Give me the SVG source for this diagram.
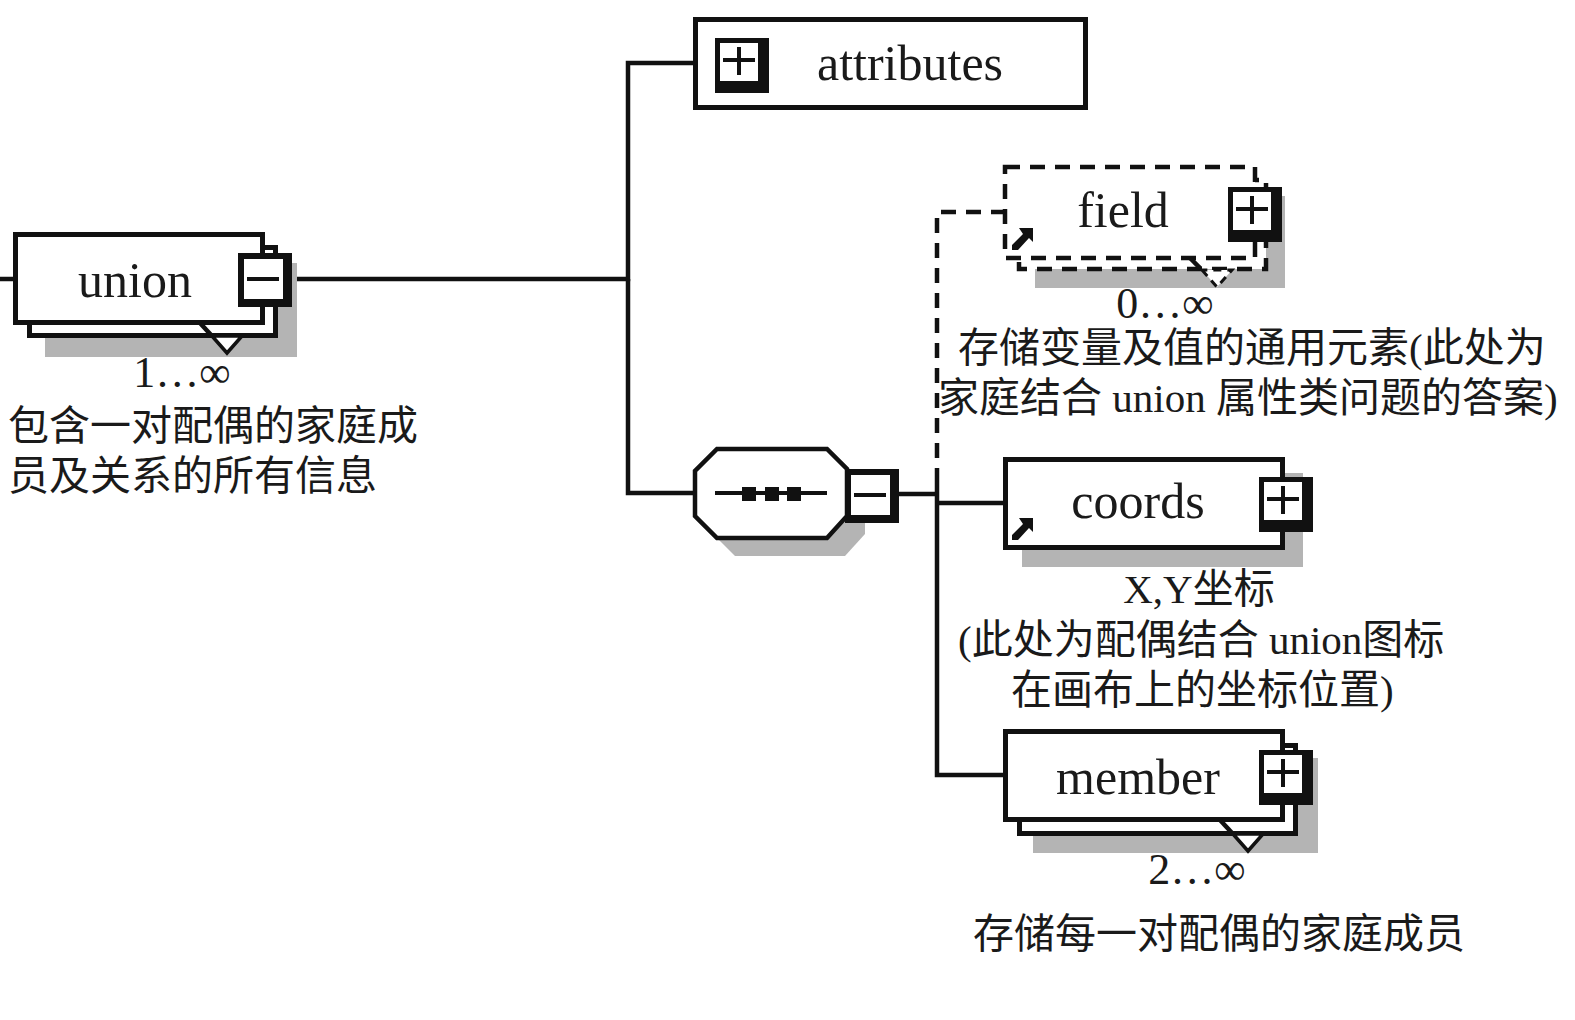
<svg xmlns="http://www.w3.org/2000/svg" width="1575" height="1020" viewBox="0 0 1575 1020">
<style>
.ln{fill:none;stroke:#111;stroke-width:4.5}
.dash{fill:none;stroke:#111;stroke-width:4.5;stroke-dasharray:15 10}
.box{fill:#fff;stroke:#111;stroke-width:5}
.dbox{fill:#fff;stroke:#111;stroke-width:4.5;stroke-dasharray:15 10}
.sh{fill:#b4b4b4}
.blk{fill:#111}
.wht{fill:#fff}
.nm{font-family:"Liberation Serif","Times New Roman",serif;font-size:50px;fill:#1a1a1a}
.mul{font-family:"Liberation Serif","Times New Roman",serif;font-size:44px;fill:#1a1a1a}
.tx{font-family:"Liberation Serif","Noto Sans CJK SC",serif;font-size:41px;fill:#1a1a1a}
</style>
<defs>
<g id="plus">
<rect x="0" y="0" width="54" height="55" class="blk"/>
<rect x="5" y="5" width="38" height="38" class="wht"/>
<path d="M8 22H40M24 9V37" stroke="#111" stroke-width="4" fill="none"/>
</g>
<g id="minus">
<rect x="0" y="0" width="54" height="54" class="blk"/>
<rect x="6" y="6" width="39" height="40" class="wht"/>
<path d="M9 26H41" stroke="#111" stroke-width="4" fill="none"/>
</g>
<polygon id="ref" points="7,0 21,0 21,14 17,10 6,22 0,22 0,17 11,6" class="blk"/>
</defs>

<g id="connectors">
<path class="ln" d="M0 279H15"/>
<path class="ln" d="M292 279H628V63H695"/>
<path class="ln" d="M628 279V493H695"/>
<path class="ln" d="M898 494H937"/>
<path class="ln" d="M937 483V775H1005"/>
<path class="ln" d="M937 503H1005"/>
<path class="dash" d="M937 483V212H1005"/>
</g>

<g id="node-union">
<rect x="45" y="263" width="252" height="94" class="sh"/>
<rect x="29.5" y="247.5" width="246" height="88" class="box"/>
<rect x="15.5" y="234.5" width="247" height="88" class="box"/>
<path d="M200 323L212 336" class="ln" stroke-width="3"/>
<polygon points="212,336 227,353 242,336" fill="#fff" stroke="#111" stroke-width="3.5"/>
<use href="#minus" x="238" y="253"/>
<text class="nm" x="135" y="297" text-anchor="middle">union</text>
<text class="mul" x="182" y="387" text-anchor="middle">1…∞</text>
<text class="tx" x="8" y="440">包含一对配偶的家庭成</text>
<text class="tx" x="8" y="490">员及关系的所有信息</text>
</g>

<g id="node-attributes">
<rect x="695.5" y="19.5" width="390" height="88" class="box"/>
<use href="#plus" x="715" y="38"/>
<text class="nm" x="910" y="80" text-anchor="middle">attributes</text>
</g>

<g id="node-sequence">
<polygon points="735,467 845,467 865,487 865,534 845,556 735,556 713,534 713,489" class="sh"/>
<polygon points="717,449 827,449 847,469 847,516 827,538 717,538 695,516 695,471" fill="#fff" stroke="#111" stroke-width="4.5"/>
<path d="M715 493H827" stroke="#111" stroke-width="4"/>
<rect x="742" y="487" width="14" height="14" class="blk"/>
<rect x="765" y="487" width="14" height="14" class="blk"/>
<rect x="787" y="487" width="14" height="14" class="blk"/>
<use href="#minus" x="845" y="469"/>
</g>

<g id="node-field">
<rect x="1035" y="196" width="250" height="92" class="sh"/>
<rect x="1019" y="180" width="247" height="89" class="dbox"/>
<rect x="1005" y="167" width="250" height="91" class="dbox"/>
<path d="M1190 258L1202 270" class="dash" stroke-dasharray="6 4" stroke-width="3"/>
<polygon points="1202,270 1217,287 1232,270" fill="#fff" stroke="#111" stroke-width="3" stroke-dasharray="8 6"/>
<use href="#plus" x="1228" y="187"/>
<use href="#ref" x="1012" y="228"/>
<text class="nm" x="1123" y="227" text-anchor="middle">field</text>
<text class="mul" x="1165" y="318" text-anchor="middle">0…∞</text>
<text class="tx" x="958" y="362">存储变量及值的通用元素(此处为</text>
<text class="tx" x="938" y="412">家庭结合 union 属性类问题的答案)</text>
</g>

<g id="node-coords">
<rect x="1022" y="473" width="281" height="94" class="sh"/>
<rect x="1005.5" y="459.5" width="277" height="88" class="box"/>
<use href="#plus" x="1259" y="477"/>
<use href="#ref" x="1012" y="518"/>
<text class="nm" x="1138" y="518" text-anchor="middle">coords</text>
<text class="tx" x="1199" y="603" text-anchor="middle">X,Y坐标</text>
<text class="tx" x="958" y="654">(此处为配偶结合 union图标</text>
<text class="tx" x="1011" y="704">在画布上的坐标位置)</text>
</g>

<g id="node-member">
<rect x="1033" y="758" width="285" height="95" class="sh"/>
<rect x="1019.5" y="745.5" width="276" height="88" class="box"/>
<rect x="1005.5" y="731.5" width="277" height="88" class="box"/>
<path d="M1220 820L1233 834" class="ln" stroke-width="3"/>
<polygon points="1233,834 1248,851 1263,834" fill="#fff" stroke="#111" stroke-width="3.5"/>
<use href="#plus" x="1259" y="750"/>
<text class="nm" x="1138" y="794" text-anchor="middle">member</text>
<text class="mul" x="1197" y="884" text-anchor="middle">2…∞</text>
<text class="tx" x="973" y="948">存储每一对配偶的家庭成员</text>
</g>
</svg>
